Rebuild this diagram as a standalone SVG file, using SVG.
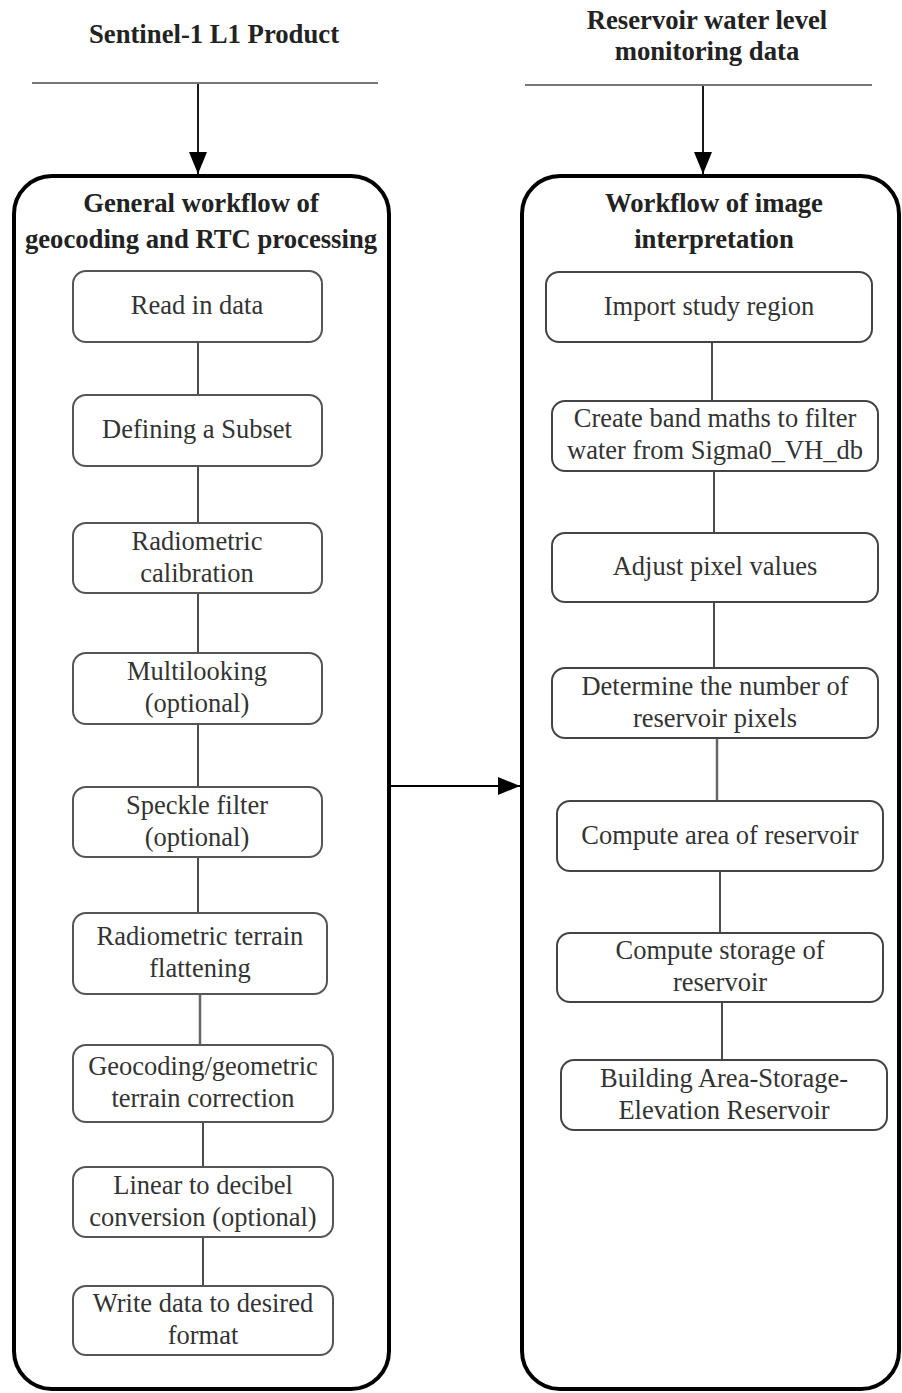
<svg xmlns="http://www.w3.org/2000/svg" width="902" height="1393" viewBox="0 0 902 1393">
<style>
  .title { font-family: "Liberation Serif", serif; font-weight: bold; font-size: 26.7px; fill: #222; text-anchor: middle; }
  .lbl { font-family: "Liberation Serif", serif; font-size: 26.5px; fill: #333; text-anchor: middle; }
  .node { fill: #fff; stroke: #555; stroke-width: 2; }
  .group { fill: none; stroke: #000; stroke-width: 4; }
  .bar { stroke: #777; stroke-width: 2; }
  .link { stroke: #111; stroke-width: 1.5; fill: none; }
  .glink { stroke: #666; stroke-width: 2.5; fill: none; }
  .arrow { stroke: #000; stroke-width: 1.8; fill: none; marker-end: url(#ahb); }
</style>
<defs>
  <marker id="ahb" viewBox="0 0 10 10" refX="10" refY="5" markerWidth="22" markerHeight="18" markerUnits="userSpaceOnUse" orient="auto" preserveAspectRatio="none">
    <path d="M0,0 L10,5 L0,10 z" fill="#000"/>
  </marker>
</defs>
<rect width="902" height="1393" fill="#fff"/>

<g id="source-left">
  <text class="title" x="214" y="43">Sentinel-1 L1 Product</text>
  <line class="bar" x1="32" y1="83" x2="378" y2="83"/>
</g>
<g id="source-right">
  <text class="title" x="707" y="29">Reservoir water level</text>
  <text class="title" x="707" y="60">monitoring data</text>
  <line class="bar" x1="525" y1="85" x2="872" y2="85"/>
</g>

<g id="group-left">
  <rect class="group" x="14" y="176" width="375" height="1213" rx="38" ry="38"/>
  <text class="title" x="201" y="212">General workflow of</text>
  <text class="title" x="201" y="248">geocoding and RTC processing</text>
</g>
<g id="group-right">
  <rect class="group" x="522" y="176" width="377" height="1213" rx="38" ry="38"/>
  <text class="title" x="714" y="212">Workflow of image</text>
  <text class="title" x="714" y="248">interpretation</text>
</g>

<g id="connectors">
  <line class="arrow" x1="198" y1="84" x2="198" y2="174"/>
  <line class="arrow" x1="703" y1="86" x2="703" y2="174"/>
  <line class="arrow" x1="391" y1="786" x2="520" y2="786"/>
  <line class="link" x1="198" y1="342" x2="198" y2="395"/>
  <line class="link" x1="198" y1="466" x2="198" y2="523"/>
  <line class="link" x1="198" y1="593" x2="198" y2="653"/>
  <line class="link" x1="198" y1="724" x2="198" y2="787"/>
  <line class="link" x1="198" y1="857" x2="198" y2="913"/>
  <line class="glink" x1="200" y1="994" x2="200" y2="1045"/>
  <line class="link" x1="203" y1="1122" x2="203" y2="1167"/>
  <line class="link" x1="203" y1="1237" x2="203" y2="1286"/>
  <line class="link" x1="712" y1="342" x2="712" y2="401"/>
  <line class="link" x1="714" y1="471" x2="714" y2="533"/>
  <line class="link" x1="714" y1="602" x2="714" y2="668"/>
  <line class="glink" x1="717" y1="738" x2="717" y2="801"/>
  <line class="link" x1="720" y1="871" x2="720" y2="933"/>
  <line class="link" x1="722" y1="1002" x2="722" y2="1060"/>
</g>

<g id="n-read">
  <rect class="node" x="73" y="271" width="249" height="71" rx="13"/>
  <text class="lbl" x="197" y="314">Read in data</text>
</g>
<g id="n-subset">
  <rect class="node" x="73" y="395" width="249" height="71" rx="13"/>
  <text class="lbl" x="197" y="438">Defining a Subset</text>
</g>
<g id="n-calib">
  <rect class="node" x="73" y="523" width="249" height="70" rx="13"/>
  <text class="lbl" x="197" y="550">Radiometric</text>
  <text class="lbl" x="197" y="582">calibration</text>
</g>
<g id="n-multi">
  <rect class="node" x="73" y="653" width="249" height="71" rx="13"/>
  <text class="lbl" x="197" y="680">Multilooking</text>
  <text class="lbl" x="197" y="712">(optional)</text>
</g>
<g id="n-speckle">
  <rect class="node" x="73" y="787" width="249" height="70" rx="13"/>
  <text class="lbl" x="197" y="814">Speckle filter</text>
  <text class="lbl" x="197" y="846">(optional)</text>
</g>
<g id="n-rtf">
  <rect class="node" x="73" y="913" width="254" height="81" rx="13"/>
  <text class="lbl" x="200" y="945">Radiometric terrain</text>
  <text class="lbl" x="200" y="977">flattening</text>
</g>
<g id="n-geo">
  <rect class="node" x="73" y="1045" width="260" height="77" rx="13"/>
  <text class="lbl" x="203" y="1075">Geocoding/geometric</text>
  <text class="lbl" x="203" y="1107">terrain correction</text>
</g>
<g id="n-db">
  <rect class="node" x="73" y="1167" width="260" height="70" rx="13"/>
  <text class="lbl" x="203" y="1194">Linear to decibel</text>
  <text class="lbl" x="203" y="1226">conversion (optional)</text>
</g>
<g id="n-write">
  <rect class="node" x="73" y="1286" width="260" height="69" rx="13"/>
  <text class="lbl" x="203" y="1312">Write data to desired</text>
  <text class="lbl" x="203" y="1344">format</text>
</g>

<g id="n-import">
  <rect class="node" x="546" y="272" width="326" height="70" rx="13" style="stroke:#444"/>
  <text class="lbl" x="709" y="315">Import study region</text>
</g>
<g id="n-band">
  <rect class="node" x="552" y="401" width="326" height="70" rx="13" style="stroke:#444"/>
  <text class="lbl" x="715" y="427">Create band maths to filter</text>
  <text class="lbl" x="715" y="459">water from Sigma0_VH_db</text>
</g>
<g id="n-adjust">
  <rect class="node" x="552" y="533" width="326" height="69" rx="13" style="stroke:#444"/>
  <text class="lbl" x="715" y="575">Adjust pixel values</text>
</g>
<g id="n-count">
  <rect class="node" x="552" y="668" width="326" height="70" rx="13" style="stroke:#444"/>
  <text class="lbl" x="715" y="695">Determine the number of</text>
  <text class="lbl" x="715" y="727">reservoir pixels</text>
</g>
<g id="n-area">
  <rect class="node" x="557" y="801" width="326" height="70" rx="13" style="stroke:#444"/>
  <text class="lbl" x="720" y="844">Compute area of reservoir</text>
</g>
<g id="n-storage">
  <rect class="node" x="557" y="933" width="326" height="69" rx="13" style="stroke:#444"/>
  <text class="lbl" x="720" y="959">Compute storage of</text>
  <text class="lbl" x="720" y="991">reservoir</text>
</g>
<g id="n-ase">
  <rect class="node" x="561" y="1060" width="326" height="70" rx="13" style="stroke:#444"/>
  <text class="lbl" x="724" y="1087">Building Area-Storage-</text>
  <text class="lbl" x="724" y="1119">Elevation Reservoir</text>
</g>
</svg>
